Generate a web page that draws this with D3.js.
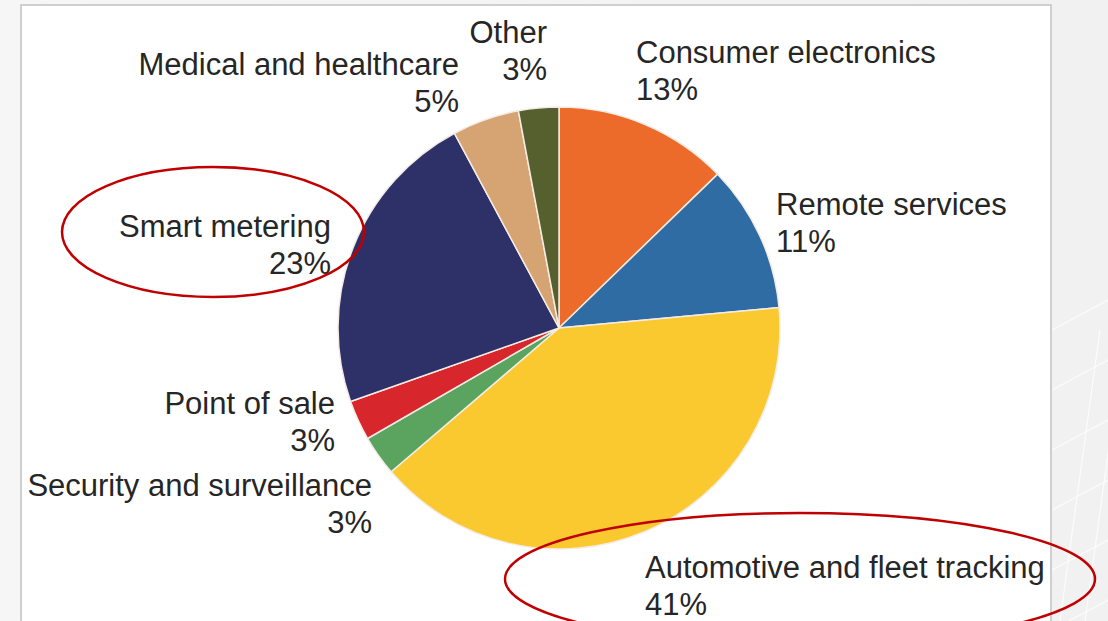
<!DOCTYPE html>
<html>
<head>
<meta charset="utf-8">
<script src="https://cdn.jsdelivr.net/npm/d3@7"></script>
<style>
  html, body { margin: 0; padding: 0; background: #f4f4f4; }
  svg { display: block; }
</style>
</head>
<body>
<svg id="chart" width="1108" height="621"></svg>
<script>
// Share of M2M / cellular IoT connections by application segment
const categories = [
  "Consumer electronics",
  "Remote services",
  "Automotive and fleet tracking",
  "Security and surveillance",
  "Point of sale",
  "Smart metering",
  "Medical and healthcare",
  "Other"
];
const shares = [13, 11, 41, 3, 3, 23, 5, 3];
const sliceColors = ["#ec6b2b", "#2f6ca3", "#fac82f", "#5aa45f", "#d8262d", "#2e3168", "#d6a373", "#56602e"];

// label anchor per slice: [x, baseline y, text-anchor]
const labelSpots = [
  [636, 63, "start"],
  [776, 215, "start"],
  [645, 578, "start"],
  [372, 496, "end"],
  [335, 414, "end"],
  [331, 237, "end"],
  [459, 75, "end"],
  [547, 43, "end"]
];
// categories circled in red
const highlightEllipses = [
  { cx: 213, cy: 232, rx: 151, ry: 65 },
  { cx: 800, cy: 579, rx: 295, ry: 66 }
];

const svg = d3.select("#chart");
const W = 1108, H = 621;

// page background with faint grid on the right
const defs = svg.append("defs");
const grad = defs.append("linearGradient").attr("id", "bg").attr("x1", 0).attr("x2", 1).attr("y1", 0).attr("y2", 0);
grad.append("stop").attr("offset", "0%").attr("stop-color", "#f6f6f6");
grad.append("stop").attr("offset", "100%").attr("stop-color", "#f1f1f1");
svg.append("rect").attr("width", W).attr("height", H).attr("fill", "url(#bg)");

const grid = svg.append("g").attr("stroke", "#ffffff").attr("stroke-width", 1.2).attr("opacity", 0.8);
d3.range(6).forEach(i => {
  grid.append("line").attr("x1", 1052).attr("y1", 330 + i * 60).attr("x2", 1108).attr("y2", 300 + i * 60);
  grid.append("line").attr("x1", 1060 + i * 25).attr("y1", 621).attr("x2", 1100 + i * 25).attr("y2", 330);
});

// white chart frame
svg.append("rect")
  .attr("x", 21).attr("y", 5).attr("width", 1030).attr("height", 640)
  .attr("fill", "#ffffff").attr("stroke", "#cfcfcf").attr("stroke-width", 2);

const cx = 559, cy = 328, radius = 221;
const pie = d3.pie().sort(null).value(d => d);
const arcs = pie(shares);
const arc = d3.arc().innerRadius(0).outerRadius(radius);

svg.append("g")
  .attr("transform", `translate(${cx},${cy})`)
  .selectAll("path")
  .data(arcs)
  .join("path")
  .attr("d", arc)
  .attr("fill", (d, i) => sliceColors[i])
  .attr("stroke", "#f4ece4")
  .attr("stroke-width", 1.5);

// category labels with percentage on the second line
const labels = svg.append("g")
  .attr("font-family", "Liberation Sans, Arial, sans-serif")
  .attr("font-size", 31)
  .attr("fill", "#262626");

categories.forEach((name, i) => {
  const [x, y, anchor] = labelSpots[i];
  const t = labels.append("text").attr("x", x).attr("y", y).attr("text-anchor", anchor);
  t.append("tspan").attr("x", x).text(name);
  t.append("tspan").attr("x", x).attr("dy", 37).text(shares[i] + "%");
});

// red highlight rings
svg.append("g")
  .selectAll("ellipse")
  .data(highlightEllipses)
  .join("ellipse")
  .attr("cx", d => d.cx).attr("cy", d => d.cy)
  .attr("rx", d => d.rx).attr("ry", d => d.ry)
  .attr("fill", "none")
  .attr("stroke", "#c00000")
  .attr("stroke-width", 2.5);
</script>
</body>
</html>
